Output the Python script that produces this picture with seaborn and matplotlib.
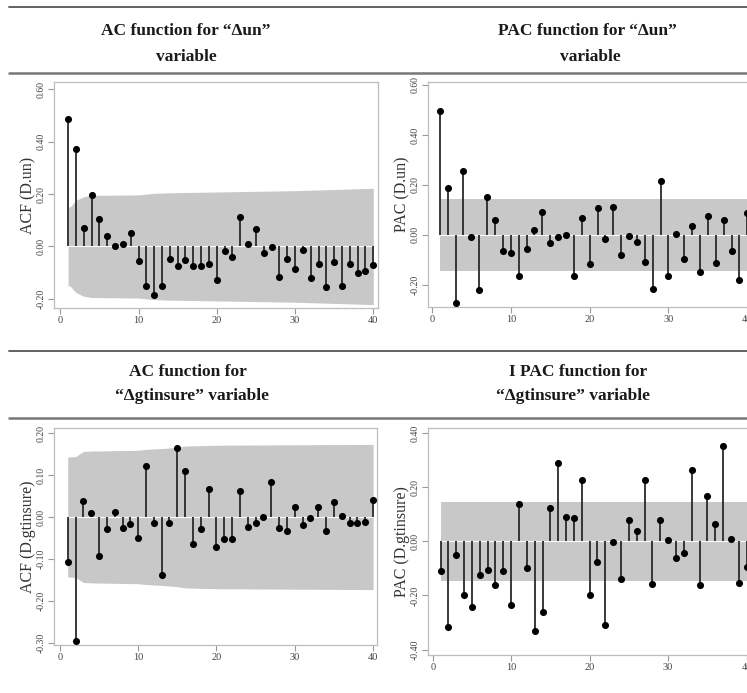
import numpy as np
import pandas as pd
import matplotlib
matplotlib.use("Agg")
import matplotlib.pyplot as plt
import seaborn as sns

sns.set_style("white")
plt.rcParams["font.family"] = ["Liberation Serif", "DejaVu Serif"]

lags = list(range(1, 41))

acf_un = [0.488, 0.373, 0.069, 0.195, 0.104, 0.041, 0.000, 0.010, 0.052, -0.054,
          -0.152, -0.187, -0.150, -0.047, -0.075, -0.051, -0.073, -0.074, -0.068, -0.127,
          -0.017, -0.041, 0.113, 0.011, 0.065, -0.025, -0.001, -0.116, -0.048, -0.085,
          -0.014, -0.121, -0.066, -0.153, -0.059, -0.150, -0.068, -0.103, -0.092, -0.070]
pac_un = [0.496, 0.189, -0.272, 0.257, -0.011, -0.222, 0.152, 0.058, -0.065, -0.074,
          -0.167, -0.057, 0.018, 0.090, -0.032, -0.011, 0.000, -0.167, 0.065, -0.119,
          0.105, -0.019, 0.112, -0.082, -0.005, -0.028, -0.108, -0.218, 0.216, -0.164,
          0.004, -0.096, 0.035, -0.150, 0.074, -0.115, 0.059, -0.065, -0.181, 0.085]
acf_gt = [-0.107, -0.295, 0.037, 0.009, -0.093, -0.029, 0.011, -0.027, -0.016, -0.049,
          0.121, -0.015, -0.138, -0.015, 0.165, 0.110, -0.065, -0.028, 0.066, -0.072,
          -0.052, -0.052, 0.061, -0.023, -0.015, 0.000, 0.083, -0.026, -0.033, 0.023,
          -0.020, -0.002, 0.023, -0.034, 0.036, 0.003, -0.015, -0.015, -0.012, 0.040]
pac_gt = [-0.109, -0.315, -0.051, -0.199, -0.243, -0.126, -0.107, -0.160, -0.111, -0.235,
          0.136, -0.099, -0.330, -0.260, 0.122, 0.288, 0.090, 0.084, 0.226, -0.199,
          -0.075, -0.309, -0.004, -0.140, 0.079, 0.036, 0.227, -0.158, 0.080, 0.006,
          -0.062, -0.042, 0.262, -0.160, 0.167, 0.064, 0.352, 0.010, -0.153, -0.096]

# confidence bands (upper bound read at breakpoints; lower is mirror)
band_un_lags = [1, 1.3, 2, 3, 4, 10, 12, 14, 20, 30, 40]
band_un_vals = [0.149, 0.152, 0.176, 0.190, 0.195, 0.197, 0.203, 0.205, 0.208, 0.213, 0.222]
band_gt_lags = [1, 2, 3, 4, 10, 11, 13, 15, 16, 20, 30, 40]
band_gt_vals = [0.143, 0.144, 0.156, 0.157, 0.159, 0.161, 0.163, 0.166, 0.169, 0.171, 0.172, 0.173]
band_pac_un = 0.144
band_pac_gt = 0.145

yticks_un = [-0.20, 0.00, 0.20, 0.40, 0.60]
yticks_acf_gt = [-0.30, -0.20, -0.10, 0.00, 0.10, 0.20]
yticks_pac_gt = [-0.40, -0.20, 0.00, 0.20, 0.40]
xticks = [0, 10, 20, 30, 40]

W, H = 747, 693
fig = plt.figure(figsize=(W / 100, H / 100), dpi=100)


def axes_px(l, t, r, b):
    return fig.add_axes([l / W, 1 - b / H, (r - l) / W, (b - t) / H])


def draw_panel(ax, vals, band_x, band_up, band_lo, yticks, ylabel, xlim, ylim):
    ax.fill_between(band_x, band_lo, band_up, color="#c8c8c8", lw=0, zorder=1)
    ax.axhline(0, color="white", lw=0.8, zorder=2, xmin=0.02)
    df = pd.DataFrame({"lag": lags, "val": vals})
    ax.vlines(df["lag"], 0, df["val"], color="#2a2a2a", lw=1.3, zorder=3)
    sns.scatterplot(data=df, x="lag", y="val", ax=ax, color="black", s=26,
                    edgecolor="black", linewidth=0, zorder=4, legend=False,
                    clip_on=False)
    ax.set_xlim(*xlim)
    ax.set_ylim(*ylim)
    ax.set_xticks(xticks)
    ax.set_xticklabels([str(v) for v in xticks], fontsize=7.5, color="#444444")
    ax.set_yticks(yticks)
    ax.set_yticklabels([f"{v:.2f}" for v in yticks], fontsize=7, color="#444444",
                       rotation=90, va="center")
    ax.set_xlabel("")
    ax.set_ylabel(ylabel, fontsize=11.5, color="#333333", labelpad=0.5)
    for s in ax.spines.values():
        s.set_color("#bdbdbd")
        s.set_linewidth(0.9)
    ax.tick_params(axis="both", which="both", direction="out", length=4, width=0.8,
                   color="#9a9a9a", pad=2, left=True, bottom=True)


# Panel 1: ACF D.un
ax1 = axes_px(54, 82, 378, 308)
draw_panel(ax1, acf_un, band_un_lags, band_un_vals, [-v for v in band_un_vals],
           yticks_un, "ACF (D.un)", (-0.8, 40.6), (-0.235, 0.628))

# Panel 2: PAC D.un
ax2 = axes_px(428, 82, 756, 307)
draw_panel(ax2, pac_un, [1, 40.2], [band_pac_un] * 2, [-band_pac_un] * 2,
           yticks_un, "PAC (D.un)", (-0.5, 41.1), (-0.29, 0.612))

# Panel 3: ACF D.gtinsure
ax3 = axes_px(54, 428, 377, 645)
draw_panel(ax3, acf_gt, band_gt_lags, band_gt_vals, [-v for v in band_gt_vals],
           yticks_acf_gt, "ACF (D.gtinsure)", (-0.75, 40.5), (-0.305, 0.212))

# Panel 4: PAC D.gtinsure
ax4 = axes_px(428, 428, 756, 655)
draw_panel(ax4, pac_gt, [1, 40.2], [band_pac_gt] * 2, [-band_pac_gt] * 2,
           yticks_pac_gt, "PAC (D.gtinsure)", (-0.6, 41.2), (-0.42, 0.418))

# Table rules
for y, c, lw in [(7, "#555555", 1.3), (73, "#777777", 1.8), (351, "#555555", 1.3), (418, "#777777", 1.8)]:
    fig.add_artist(plt.Line2D([0.012, 1.0], [1 - y / H, 1 - y / H], color=c, lw=lw,
                              transform=fig.transFigure))

# Titles
title_kw = dict(fontsize=12.5, fontweight="bold", ha="center", va="center", color="#1a1a1a")
fig.text(186 / W, 1 - 31 / H, "AC function for \u201c\u0394un\u201d", **title_kw)
fig.text(186 / W, 1 - 57 / H, "variable", **title_kw)
fig.text(587 / W, 1 - 31 / H, "PAC function for \u201c\u0394un\u201d", **title_kw)
fig.text(590 / W, 1 - 57 / H, "variable", **title_kw)
fig.text(188 / W, 1 - 372 / H, "AC function for", **title_kw)
fig.text(192 / W, 1 - 396 / H, "\u201c\u0394gtinsure\u201d variable", **title_kw)
fig.text(578 / W, 1 - 372 / H, "I PAC function for", **title_kw)
fig.text(573 / W, 1 - 396 / H, "\u201c\u0394gtinsure\u201d variable", **title_kw)

fig.savefig("out.png", dpi=100)
